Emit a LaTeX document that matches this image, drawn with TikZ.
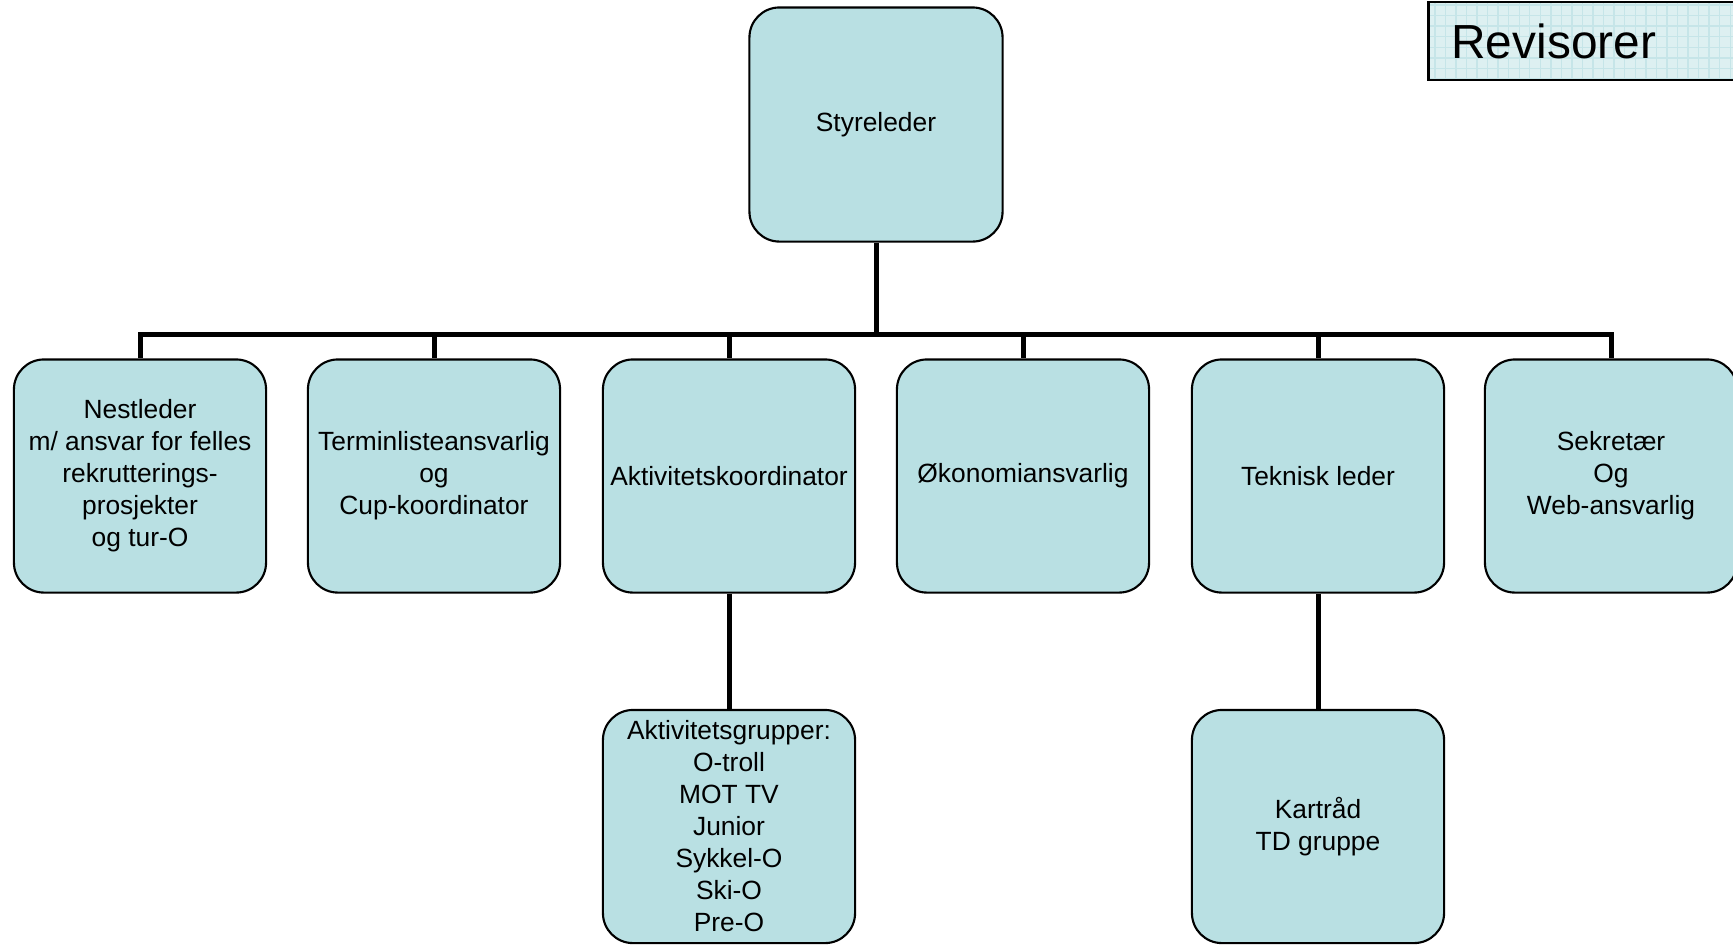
\documentclass[tikz,border=0pt]{standalone}
\usepackage{fontspec}
\setmainfont{Liberation Sans}
\usepackage{tikz}
\usetikzlibrary{patterns}

\definecolor{boxfill}{HTML}{B9E0E3}
\definecolor{revfill}{HTML}{DDF0F1}
\definecolor{revgrid}{HTML}{C6E5E8}

\begin{document}
\begin{tikzpicture}[x=0.01cm, y=-0.01cm]
      \tikzstyle{onode} = [draw=black, line width=0.6pt, fill=boxfill, rectangle, rounded corners = 0.3cm, minimum width = 2.52cm, minimum height = 2.33cm, inner sep = 1pt, align=center, font=\fontsize{7.5pt}{9.1pt}\selectfont]
      \tikzstyle{conn} = [line width=0.05cm]

      \useasboundingbox (0,0) rectangle (1733,944);
      \clip (0,0) rectangle (1733,944);

      %%%%%%%%%%%%%%%%%%%%%%%%%%%%%% 
      %% Top
      %%%%%%%%%%%%%%%%%%%%%%%%%%%%%% 
      \node[onode, minimum width=2.53cm, minimum height=2.34cm] (sty) at (876,124.5) {Styreleder};
      \coordinate (bus) at (876,334);

      \node[draw=black, line width=0.8pt, preaction={fill=revfill}, pattern=grid, pattern color=revgrid, anchor=west, inner xsep=0.23cm, minimum height=0.78cm, text width=2.9cm, align=left, font=\fontsize{13.6pt}{15pt}\selectfont] (rev) at (1427,41) {Revisorer};

      %%%%%%%%%%%%%%%%%%%%%%%%%%%%%% 
      %% Second row
      %%%%%%%%%%%%%%%%%%%%%%%%%%%%%% 
      \node[onode] (nest) at (140,476) {Nestleder\\m/ ansvar for felles\\rekrutterings-\\prosjekter\\og tur-O};
      \node[onode] (term) at (434,476) {Terminlisteansvarlig\\og\\Cup-koordinator};
      \node[onode] (akt) at (729,476) {Aktivitetskoordinator};
      \node[onode] (oko) at (1023,476) {Økonomiansvarlig};
      \node[onode] (tek) at (1318,476) {Teknisk leder};
      \node[onode] (sek) at (1611,476) {Sekretær\\Og\\Web-ansvarlig};

      %%%%%%%%%%%%%%%%%%%%%%%%%%%%%% 
      %% Third row
      %%%%%%%%%%%%%%%%%%%%%%%%%%%%%% 
      \node[onode] (grp) at (729,826.5) {Aktivitetsgrupper:\\O-troll\\MOT TV\\Junior\\Sykkel-O\\Ski-O\\Pre-O};
      \node[onode] (kart) at (1318,826.5) {Kartråd\\TD gruppe};

      % edges
      \draw[conn] (sty.south) -- (bus);
      \draw[conn] (bus) -| (nest.north);
      \draw[conn] (bus) -| (term.north);
      \draw[conn] (bus) -| (akt.north);
      \draw[conn] (bus) -| (oko.north);
      \draw[conn] (bus) -| (tek.north);
      \draw[conn] (bus) -| (sek.north);

      \draw[conn] (akt.south) -- (grp.north);
      \draw[conn] (tek.south) -- (kart.north);

\end{tikzpicture}
\end{document}
